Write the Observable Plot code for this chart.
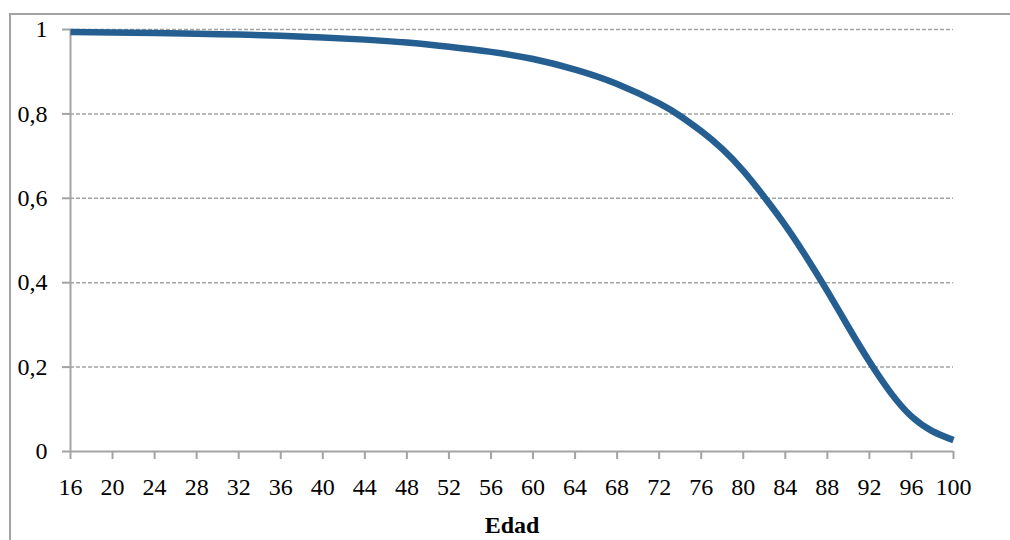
<!DOCTYPE html>
<html>
<head>
<meta charset="utf-8">
<script src="https://cdn.jsdelivr.net/npm/d3@7"></script>
<script src="https://cdn.jsdelivr.net/npm/@observablehq/plot@0.6"></script>
<style>
  html, body { margin: 0; padding: 0; background: #fff; }
  #wrap { position: relative; width: 1010px; height: 540px; overflow: hidden; }
  #border { position: absolute; left: 9px; top: 13px; width: 1010px; height: 540px; border: 2px solid #a3a3a3; box-sizing: border-box; }
  #chart { position: absolute; left: 0; top: 0; }
</style>
</head>
<body>
<div id="wrap"><div id="border"></div><div id="chart"></div></div>
<script>
const ages = [16, 20, 24, 28, 32, 36, 40, 44, 48, 52, 56, 60, 64, 68, 72, 74, 76, 78, 80, 82, 84, 86, 88, 90, 92, 94, 96, 98, 100];
const survival = [0.994, 0.993, 0.992, 0.990, 0.988, 0.985, 0.981, 0.976, 0.969, 0.959, 0.947, 0.930, 0.905, 0.871, 0.825, 0.795, 0.759, 0.717, 0.665, 0.603, 0.536, 0.461, 0.380, 0.295, 0.213, 0.140, 0.083, 0.048, 0.027];
const xTicks = [16, 20, 24, 28, 32, 36, 40, 44, 48, 52, 56, 60, 64, 68, 72, 76, 80, 84, 88, 92, 96, 100];
const yTicks = [0, 0.2, 0.4, 0.6, 0.8, 1];
const xLabel = "Edad";

const data = ages.map((a, i) => ({age: a, s: survival[i]}));
const gray = "#a3a3a3";

const chart = Plot.plot({
  width: 1010,
  height: 540,
  marginLeft: 70,
  marginRight: 57,
  marginTop: 29,
  marginBottom: 89,
  style: {fontFamily: "'Liberation Serif', 'Times New Roman', serif", fontSize: "24px", background: "transparent", color: "black"},
  x: {domain: [16, 100], label: null},
  y: {domain: [0, 1], label: null},
  marks: [
    Plot.ruleY(yTicks.filter(d => d > 0), {stroke: gray, strokeWidth: 1.5, strokeDasharray: "4,2"}),
    Plot.ruleX([16], {stroke: gray, strokeWidth: 2}),
    Plot.ruleY([0], {stroke: gray, strokeWidth: 2}),
    Plot.axisY({ticks: yTicks, tickSize: 8, tickPadding: 15, stroke: gray, strokeWidth: 2, fill: "black",
      tickFormat: d => String(d).replace(".", ","), label: null}),
    Plot.axisX({ticks: xTicks, tickSize: 8, tickPadding: 18, stroke: gray, strokeWidth: 2, fill: "black",
      tickFormat: d => String(d), label: null}),
    Plot.line(data, {x: "age", y: "s", stroke: "#255e91", strokeWidth: 6.5, curve: "natural", strokeLinecap: "butt"}),
    Plot.text([xLabel], {frameAnchor: "bottom", dy: 74, fontWeight: "bold", fontSize: 24, fill: "black", lineAnchor: "middle"})
  ]
});
document.getElementById("chart").appendChild(chart);
</script>
</body>
</html>
